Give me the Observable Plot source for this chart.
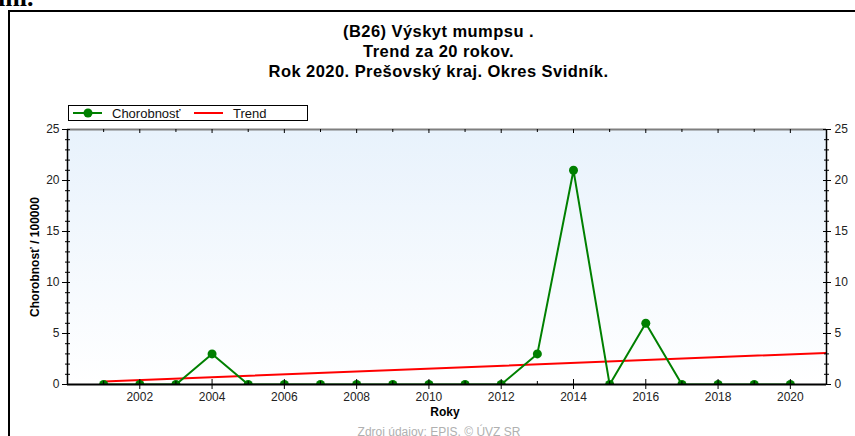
<!DOCTYPE html>
<html>
<head>
<meta charset="utf-8">
<script src="https://cdn.jsdelivr.net/npm/d3@7"></script>
<script src="https://cdn.jsdelivr.net/npm/@observablehq/plot@0.6"></script>
<style>
  html, body { margin: 0; padding: 0; background: #fff; }
  body { width: 855px; height: 436px; overflow: hidden; position: relative; font-family: "Liberation Sans", Arial, sans-serif; }
  #frame { position: absolute; left: 8px; top: 10px; width: 900px; height: 500px; border-left: 2px solid #000; border-top: 2px solid #000; }
  #chart { position: absolute; left: 0; top: 0; }
  .t { position: absolute; white-space: nowrap; }
  #title { left: 0; width: 877px; top: 21px; text-align: center; font-weight: bold; font-size: 16.5px; letter-spacing: 0.45px; line-height: 20px; color: #000; }
  #legend { left: 68px; top: 105px; width: 238px; height: 14px; border: 1px solid #000; background: #fff; }
  #ylab { left: 35px; top: 257px; transform: translate(-50%, -50%) rotate(-90deg); font-weight: bold; font-size: 12px; color: #000; }
  #xlab { left: 445px; top: 405px; transform: translateX(-50%); font-weight: bold; font-size: 12px; }
  #src { left: 439px; top: 425px; transform: translateX(-50%); font-size: 12px; color: #b0b0b0; }
  #topscrap { left: -2px; top: -17px; font-family: "Liberation Serif", serif; font-weight: bold; font-size: 26px; }
</style>
</head>
<body>
<div class="t" id="topscrap">ını.</div>
<div id="frame"></div>
<div id="chart"></div>
<div class="t" id="title">(B26) Výskyt mumpsu .<br>Trend za 20 rokov.<br>Rok 2020. Prešovský kraj. Okres Svidník.</div>
<div class="t" id="legend">
  <svg width="238" height="14" style="position:absolute;left:0;top:0">
    <line x1="4" y1="7" x2="33" y2="7" stroke="#008000" stroke-width="2"/>
    <circle cx="19" cy="7" r="4.5" fill="#008000"/>
    <text x="43" y="11.5" font-size="13" fill="#111">Chorobnosť</text>
    <line x1="125" y1="7" x2="154" y2="7" stroke="#ff0000" stroke-width="2"/>
    <text x="164" y="11.5" font-size="13" fill="#111">Trend</text>
  </svg>
</div>
<div class="t" id="ylab">Chorobnosť / 100000</div>
<div class="t" id="xlab">Roky</div>
<div class="t" id="src">Zdroj údajov: EPIS, © ÚVZ SR</div>
<script>
const years = [2001, 2002, 2003, 2004, 2005, 2006, 2007, 2008, 2009, 2010, 2011, 2012, 2013, 2014, 2015, 2016, 2017, 2018, 2019, 2020];
const chorobnost = [0, 0, 0, 3, 0, 0, 0, 0, 0, 0, 0, 0, 3, 21, 0, 6, 0, 0, 0, 0];
const trendYears = [2001, 2021];
const trendValues = [0.3, 3.1];
const xTickYears = [2002, 2004, 2006, 2008, 2010, 2012, 2014, 2016, 2018, 2020];
const xMinorYears = [2001, 2003, 2005, 2007, 2009, 2011, 2013, 2015, 2017, 2019];
const yTicks = [0, 5, 10, 15, 20, 25];
const yMinor = [1, 2, 3, 4, 6, 7, 8, 9, 11, 12, 13, 14, 16, 17, 18, 19, 21, 22, 23, 24];

const data = years.map((y, i) => ({year: y, value: chorobnost[i]}));
const trend = trendYears.map((y, i) => ({year: y, value: trendValues[i]}));

const W = 855, H = 436;
const mL = 67, mR = 29, mT = 129, mB = 52;
const pw = W - mL - mR, ph = H - mT - mB;

const plot = Plot.plot({
  width: W, height: H,
  marginLeft: mL, marginRight: mR, marginTop: mT, marginBottom: mB,
  style: {fontSize: "12px", fontFamily: "'Liberation Sans', Arial, sans-serif", color: "#222", background: "transparent"},
  x: {domain: [2000, 2021], ticks: xTickYears, tickFormat: d => String(d), tickSize: 0, tickPadding: 8, label: null},
  y: {domain: [0, 25], ticks: yTicks, tickSize: 0, tickPadding: 8, label: null, axis: "both"},
  marks: [
    Plot.frame({fill: "url(#bgGrad)", stroke: null}),
    Plot.ruleY([25], {stroke: "#7f7f7f", strokeWidth: 2}),
    Plot.line(trend, {x: "year", y: "value", stroke: "#ff0000", strokeWidth: 2, clip: true}),
    Plot.line(data, {x: "year", y: "value", stroke: "#008000", strokeWidth: 2, clip: true}),
    Plot.dot(data, {x: "year", y: "value", r: 4.5, fill: "#008000", clip: true}),
    // x ticks bottom
    Plot.ruleX(xTickYears, {x: d => d, insetTop: ph - 5, insetBottom: -5, stroke: "#000"}),
    Plot.ruleX(xMinorYears, {x: d => d, insetTop: ph - 3, stroke: "#000"}),
    // x ticks top
    Plot.ruleX(xTickYears, {x: d => d, insetBottom: ph - 4, stroke: "#000"}),
    Plot.ruleX(xMinorYears, {x: d => d, insetBottom: ph - 3, stroke: "#000"}),
    // y ticks left
    Plot.ruleY(yTicks, {y: d => d, insetLeft: -5, insetRight: pw - 3, stroke: "#000"}),
    Plot.ruleY(yMinor, {y: d => d, insetLeft: -2, insetRight: pw - 3, stroke: "#000"}),
    // y ticks right
    Plot.ruleY(yTicks, {y: d => d, insetLeft: pw - 3, insetRight: -5, stroke: "#000"}),
    Plot.ruleY(yMinor, {y: d => d, insetLeft: pw - 2, insetRight: -3, stroke: "#000"}),
    // axis lines
    Plot.ruleX([2000], {stroke: "#000", strokeWidth: 1.5}),
    Plot.ruleX([2021], {stroke: "#000", strokeWidth: 1.5}),
    Plot.ruleY([0], {stroke: "#000", strokeWidth: 2})
  ]
});

const svg = d3.select(plot);
const defs = svg.insert("defs", ":first-child");
const grad = defs.append("linearGradient").attr("id", "bgGrad").attr("x1", 0).attr("y1", 0).attr("x2", 0).attr("y2", 1);
grad.append("stop").attr("offset", "0%").attr("stop-color", "#e8f2fc");
grad.append("stop").attr("offset", "100%").attr("stop-color", "#ffffff");

document.getElementById("chart").appendChild(plot);
</script>
</body>
</html>
